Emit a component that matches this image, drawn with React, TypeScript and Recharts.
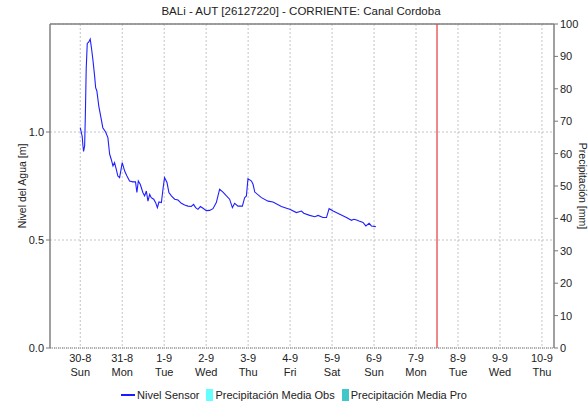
import React from 'react';
import { ComposedChart, Line, XAxis, YAxis, CartesianGrid, ReferenceLine } from 'recharts';

// hours since 30-8 00:00
const hours = [0, 1.1, 1.5, 1.9, 2.5, 2.9, 3.4, 4.0, 4.9, 5.7, 6.5, 7.2, 8.2, 8.8, 9.5, 10.6, 12.0, 12.9, 14.5, 15.8, 16.8, 17.7, 18.7, 19.6, 20.6, 21.5, 22.5, 24.0, 25.4, 26.7, 28.2, 30.1, 31.6, 32.4, 33.2, 34.3, 35.8, 36.8, 37.8, 38.7, 39.7, 40.6, 42.0, 43.1, 44.1, 45.0, 46.4, 47.3, 48.2, 49.6, 50.7, 52.1, 54.0, 55.9, 57.8, 59.7, 61.6, 63.5, 64.8, 66.0, 67.3, 68.7, 70.2, 72.1, 74.0, 75.9, 77.8, 79.7, 81.6, 83.6, 85.4, 87.0, 88.3, 90.2, 92.7, 94.0, 95.0, 95.9, 97.9, 98.8, 99.8, 103.6, 107.4, 110.2, 115.0, 118.8, 119.8, 123.6, 126.5, 127.8, 131.2, 134.1, 136.0, 138.8, 140.8, 142.3, 144.6, 148.4, 152.2, 155.1, 156.4, 158.0, 159.4, 161.7, 163.3, 165.2, 166.5, 169.0];
const nivel = [1.02, 0.98, 0.94, 0.91, 0.935, 1.07, 1.29, 1.41, 1.417, 1.43, 1.383, 1.337, 1.26, 1.205, 1.19, 1.12, 1.06, 1.02, 1.0, 0.974, 0.897, 0.874, 0.843, 0.858, 0.827, 0.796, 0.789, 0.858, 0.819, 0.796, 0.773, 0.769, 0.769, 0.72, 0.773, 0.758, 0.72, 0.704, 0.727, 0.68, 0.711, 0.696, 0.689, 0.673, 0.65, 0.676, 0.673, 0.735, 0.789, 0.766, 0.72, 0.704, 0.689, 0.685, 0.67, 0.662, 0.657, 0.655, 0.665, 0.65, 0.642, 0.655, 0.647, 0.636, 0.637, 0.645, 0.673, 0.735, 0.722, 0.704, 0.689, 0.65, 0.67, 0.657, 0.657, 0.696, 0.704, 0.784, 0.773, 0.758, 0.722, 0.696, 0.68, 0.676, 0.655, 0.645, 0.642, 0.627, 0.634, 0.624, 0.614, 0.608, 0.614, 0.604, 0.604, 0.645, 0.634, 0.619, 0.604, 0.591, 0.596, 0.593, 0.588, 0.581, 0.565, 0.577, 0.565, 0.562];
// no rain recorded / forecast in this window
const precipObs: (number | null)[] = [];
const precipPro: (number | null)[] = [];

const dateLabels = ['30-8', '31-8', '1-9', '2-9', '3-9', '4-9', '5-9', '6-9', '7-9', '8-9', '9-9', '10-9'];
const dayLabels = ['Sun', 'Mon', 'Tue', 'Wed', 'Thu', 'Fri', 'Sat', 'Sun', 'Mon', 'Tue', 'Wed', 'Thu'];
const levelTicks = [0, 0.5, 1.0];
const precipTicks = [0, 10, 20, 30, 40, 50, 60, 70, 80, 90, 100];
const nowHour = 204; // 7-9 12:00

const data = hours.map((h, i) => ({
    h,
    nivel: nivel[i],
    obs: precipObs[i] ?? null,
    pro: precipPro[i] ?? null,
}));
const dayTicks = dateLabels.map((_, i) => i * 24);

const FONT = '"Liberation Sans", Arial, sans-serif';

const DayTick = ({ x, y, payload }: any) => {
    const i = Math.round(payload.value / 24);
    return (
        <text x={x} y={y} textAnchor="middle" fontSize={11} fill="#222" fontFamily={FONT}>
            <tspan x={x} dy={12}>{dateLabels[i]}</tspan>
            <tspan x={x} dy={14}>{dayLabels[i]}</tspan>
        </text>
    );
};

const LegendRow = () => (
    <div style={{ position: 'absolute', left: 0, top: 389, width: 588, display: 'flex', justifyContent: 'center', alignItems: 'center', fontFamily: FONT, fontSize: 11, color: '#222' }}>
        <span style={{ display: 'inline-block', width: 14, height: 2, background: '#1a1aff', marginRight: 2 }} />
        <span style={{ marginRight: 7 }}>Nivel Sensor</span>
        <span style={{ display: 'inline-block', width: 7, height: 12, background: '#66ffff', marginRight: 2 }} />
        <span style={{ marginRight: 7 }}>Precipitación Media Obs</span>
        <span style={{ display: 'inline-block', width: 7, height: 12, background: '#40c8c8', marginRight: 2 }} />
        <span>Precipitación Media Pro</span>
    </div>
);

const App: React.FC = () => (
    <div style={{ position: 'absolute', left: 0, top: 0, width: 588, height: 404, background: '#fff' }}>
        <div style={{ position: 'absolute', left: 0, top: 5, width: 588, paddingLeft: 14, boxSizing: 'border-box', textAlign: 'center', fontFamily: FONT, fontSize: 11.5, color: '#222' }}>
            BALi - AUT [26127220] - CORRIENTE: Canal Cordoba
        </div>
        <ComposedChart width={588} height={404} data={data} margin={{ top: 24, right: 4, bottom: 25, left: 10 }}>
            <CartesianGrid yAxisId="left" stroke="#c4c4c4" strokeDasharray="2 2" verticalValues={dayTicks} />
            <XAxis
                dataKey="h"
                type="number"
                domain={[-17.3, 270.9]}
                ticks={dayTicks}
                interval={0}
                tick={<DayTick />}
                tickLine={false}
                tickSize={0}
                height={31}
                allowDataOverflow
                axisLine={{ stroke: '#777', strokeDasharray: '1 1' }}
            />
            <YAxis
                yAxisId="left"
                domain={[0, 1.5]}
                ticks={levelTicks}
                tickFormatter={(v: number) => v.toFixed(1)}
                width={40}
                tickSize={4}
                tickMargin={2}
                tick={{ fontSize: 11, fill: '#222', fontFamily: FONT }}
                tickLine={{ stroke: '#777' }}
                axisLine={{ stroke: '#808080', strokeWidth: 1.5 }}
                label={{ value: 'Nivel del Agua [m]', angle: -90, position: 'insideLeft', offset: 12, style: { textAnchor: 'middle', fontSize: 10.5, fill: '#222', fontFamily: FONT } }}
            />
            <YAxis
                yAxisId="right"
                orientation="right"
                domain={[0, 100]}
                ticks={precipTicks}
                width={30}
                tickSize={4}
                tickMargin={2}
                allowDataOverflow
                tick={{ fontSize: 11, fill: '#222', fontFamily: FONT }}
                tickLine={{ stroke: '#777' }}
                axisLine={{ stroke: '#808080', strokeWidth: 1.5 }}
                label={{ value: 'Precipitación [mm]', angle: 90, position: 'insideRight', offset: 1, style: { textAnchor: 'middle', fontSize: 10.5, fill: '#222', fontFamily: FONT } }}
            />
            <ReferenceLine yAxisId="left" y={1.5} stroke="#808080" strokeWidth={1.5} />
            <ReferenceLine yAxisId="left" x={nowHour} stroke="#e23a3a" strokeWidth={1.2} />
            <Line yAxisId="right" dataKey="obs" stroke="#66ffff" dot={false} legendType="square" isAnimationActive={false} />
            <Line yAxisId="right" dataKey="pro" stroke="#40c8c8" dot={false} legendType="square" isAnimationActive={false} />
            <Line yAxisId="left" dataKey="nivel" stroke="#1f1fff" strokeWidth={1.1} dot={false} isAnimationActive={false} />
        </ComposedChart>
        <LegendRow />
    </div>
);

export default App;
